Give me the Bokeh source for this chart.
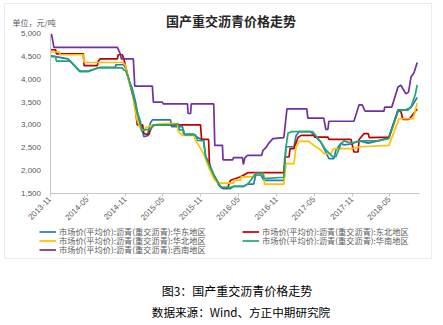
import math
import pandas as pd
from bokeh.plotting import figure
from bokeh.models import (Range1d, FixedTicker, NumeralTickFormatter, DatetimeTickFormatter,
                          Legend, LegendItem, Label, BoxAnnotation)
from bokeh.embed import file_html
from bokeh.resources import INLINE

# ---------------- data ----------------
names = ["市场价(平均价):沥青(重交沥青):华东地区",
         "市场价(平均价):沥青(重交沥青):东北地区",
         "市场价(平均价):沥青(重交沥青):华北地区",
         "市场价(平均价):沥青(重交沥青):华南地区",
         "市场价(平均价):沥青(重交沥青):西南地区"]

east_dates = ["2013-11-01", "2014-01-27", "2014-03-25", "2014-05-05", "2014-07-02", "2014-09-13",
              "2014-09-16", "2014-10-24", "2014-11-01", "2014-11-16", "2014-12-04", "2014-12-20",
              "2015-01-03", "2015-01-13", "2015-01-23", "2015-01-29", "2015-02-15", "2015-03-01",
              "2015-03-11", "2015-06-07", "2015-06-12", "2015-08-04", "2015-08-09", "2015-09-27",
              "2015-10-06", "2015-11-14", "2015-11-24", "2015-12-08", "2016-01-02", "2016-01-26",
              "2016-02-15", "2016-03-23", "2016-04-07", "2016-05-26", "2016-06-15", "2016-07-13",
              "2016-07-23", "2016-08-17", "2016-09-01", "2016-12-06", "2016-12-16", "2017-01-24",
              "2017-02-03", "2017-02-18", "2017-04-15", "2017-06-03", "2017-06-27", "2017-07-12",
              "2017-08-05", "2017-08-15", "2017-09-09", "2017-09-23", "2017-10-27", "2017-12-05",
              "2018-01-18", "2018-03-06", "2018-04-28", "2018-06-11", "2018-07-19", "2018-08-13",
              "2018-09-12"]
east_values = [4520, 4450, 4180, 4180, 4265, 4265,
               4320, 4320, 4250, 4000, 3800, 3500,
               3150, 2950, 2850, 2740, 2760, 3035,
               3110, 3110, 2960, 2960, 2800, 2800,
               2750, 2650, 2300, 2200, 1900, 1680,
               1600, 1600, 1650, 1650, 1700, 1700,
               1900, 1900, 1780, 1780, 2520, 2520,
               2760, 2850, 2850, 2620, 2400, 2260,
               2260, 2450, 2600, 2560, 2580, 2650,
               2600, 2650, 2720, 3330, 3330, 3380,
               3600]

northeast_dates = ["2013-11-01", "2013-11-28", "2013-12-02", "2014-04-11", "2014-04-15", "2014-06-18",
                   "2014-06-22", "2014-07-02", "2014-09-23", "2014-09-27", "2014-10-17", "2014-10-24",
                   "2014-11-10", "2014-11-26", "2014-12-11", "2014-12-20", "2014-12-28", "2015-01-23",
                   "2015-01-29", "2015-02-21", "2015-03-01", "2015-03-11", "2015-03-25", "2015-10-30",
                   "2015-11-04", "2015-12-08", "2015-12-13", "2016-01-02", "2016-02-05", "2016-03-09",
                   "2016-03-23", "2016-05-11", "2016-06-15", "2016-12-06", "2016-12-11", "2016-12-31",
                   "2017-01-05", "2017-01-24", "2017-02-13", "2017-02-28", "2017-04-30", "2017-05-04",
                   "2017-07-07", "2017-07-12", "2017-10-27", "2017-11-10", "2017-11-30", "2017-12-05",
                   "2017-12-29", "2018-01-18", "2018-01-23", "2018-04-28", "2018-06-11", "2018-06-25",
                   "2018-07-05", "2018-08-03", "2018-09-12"]
northeast_values = [4650, 4650, 4560, 4560, 4300, 4300,
                    4390, 4450, 4450, 4540, 4540, 4450,
                    4120, 3830, 3570, 3320, 3000, 3000,
                    2810, 2780, 2880, 2970, 3000, 3000,
                    2680, 2680, 2040, 1900, 1630, 1620,
                    1785, 1860, 1950, 1950, 2295, 2295,
                    2480, 2480, 2730, 2770, 2770, 2730,
                    2730, 2680, 2680, 2405, 2405, 2680,
                    2810, 2810, 2720, 2730, 3300, 3300,
                    3120, 3120, 3350]

north_dates = ["2013-11-01", "2013-12-15", "2013-12-20", "2014-04-11", "2014-04-15", "2014-10-20",
               "2014-11-01", "2014-11-16", "2014-12-04", "2014-12-15", "2014-12-28", "2015-01-13",
               "2015-01-29", "2015-02-07", "2015-03-16", "2015-05-03", "2015-07-10", "2015-07-15",
               "2015-08-04", "2015-09-27", "2015-10-06", "2015-11-14", "2015-11-24", "2015-12-08",
               "2016-01-02", "2016-01-21", "2016-04-07", "2016-04-10", "2016-05-11", "2016-05-14",
               "2016-07-13", "2016-07-16", "2016-09-01", "2016-09-04", "2016-12-06", "2016-12-16",
               "2017-01-24", "2017-02-03", "2017-02-18", "2017-04-06", "2017-04-30", "2017-06-03",
               "2017-06-17", "2017-07-21", "2017-08-05", "2017-10-27", "2017-12-14", "2018-04-28",
               "2018-06-16", "2018-08-23", "2018-09-12"]
north_values = [4600, 4600, 4540, 4540, 4370, 4370,
                4300, 3975, 3720, 3380, 3090, 2915,
                2880, 2940, 3000, 3030, 3030, 2850,
                2770, 2770, 2660, 2370, 2250, 2075,
                1820, 1720, 1720, 1785, 1785, 1860,
                1860, 1930, 1930, 1700, 1700, 2150,
                2150, 2515, 2640, 2640, 2550, 2450,
                2370, 2370, 2480, 2480, 2520, 2550,
                3135, 3135, 3480]

south_dates = ["2013-11-01", "2013-11-28", "2013-12-02", "2014-02-08", "2014-03-25", "2014-05-05",
               "2014-06-18", "2014-10-17", "2014-10-24", "2014-11-01", "2014-11-16", "2014-11-26",
               "2014-12-11", "2014-12-28", "2015-01-13", "2015-01-18", "2015-01-29", "2015-03-01",
               "2015-03-16", "2015-05-28", "2015-07-15", "2015-07-20", "2015-08-09", "2015-08-14",
               "2015-10-06", "2015-10-16", "2015-11-14", "2015-11-24", "2015-12-08", "2016-01-02",
               "2016-01-21", "2016-02-05", "2016-03-23", "2016-04-07", "2016-05-26", "2016-06-15",
               "2016-07-23", "2016-08-27", "2016-09-01", "2016-12-06", "2016-12-16", "2016-12-26",
               "2017-01-10", "2017-04-25", "2017-06-03", "2017-06-27", "2017-07-31", "2017-08-15",
               "2017-09-09", "2017-09-23", "2017-10-27", "2017-12-14", "2018-03-06", "2018-04-28",
               "2018-06-11", "2018-07-10", "2018-07-29", "2018-08-13", "2018-09-02", "2018-09-12"]
south_values = [4500, 4500, 4400, 4400, 4170, 4170,
                4250, 4250, 4200, 4200, 4030, 3850,
                3590, 3290, 3070, 2860, 2890, 2900,
                3000, 3000, 3020, 2890, 2890, 2780,
                2780, 2660, 2650, 2300, 2150, 1900,
                1750, 1630, 1630, 1650, 1650, 1700,
                1930, 1930, 1820, 1850, 2500, 2815,
                2850, 2850, 2620, 2450, 2300, 2300,
                2590, 2650, 2600, 2650, 2650, 2700,
                3300, 3330, 3320, 3400, 3650, 3880]

southwest_dates = ["2013-11-08", "2013-11-20", "2014-09-23", "2014-10-08", "2014-10-12", "2014-12-09",
                   "2014-12-16", "2015-03-11", "2015-03-16", "2015-04-28", "2015-05-03", "2015-08-28",
                   "2015-08-31", "2015-09-12", "2015-09-15", "2016-01-02", "2016-01-07", "2016-02-13",
                   "2016-02-16", "2016-04-02", "2016-04-06", "2016-05-20", "2016-05-24", "2016-06-01",
                   "2016-06-14", "2016-08-20", "2016-08-27", "2016-09-10", "2016-09-25", "2016-10-14",
                   "2016-12-06", "2016-12-21", "2017-03-27", "2017-04-01", "2017-06-17", "2017-06-27",
                   "2017-07-07", "2017-07-12", "2017-11-10", "2017-12-05", "2017-12-20", "2018-01-03",
                   "2018-04-04", "2018-04-08", "2018-05-12", "2018-06-11", "2018-06-25", "2018-07-19",
                   "2018-08-01", "2018-08-13", "2018-08-28", "2018-09-12"]
southwest_values = [5000, 4700, 4700, 4550, 4450, 4450,
                    3850, 3850, 3500, 3500, 3460, 3460,
                    3250, 3250, 3460, 3460, 2550, 2550,
                    2230, 2230, 2280, 2280, 2130, 2280,
                    2330, 2330, 2440, 2500, 2600, 2700,
                    2720, 3350, 3350, 3150, 3150, 2900,
                    2900, 3080, 3080, 3440, 3440, 3300,
                    3300, 3390, 3390, 3830, 3870, 3680,
                    3720, 4050, 4150, 4370]

x_tick_dates = ["2013-11-01", "2014-05-01", "2014-11-01", "2015-05-01", "2015-11-01",
                "2016-05-01", "2016-11-01", "2017-05-01", "2017-11-01", "2018-05-01"]
y_ticks = [1500, 2000, 2500, 3000, 3500, 4000, 4500, 5000]
x_axis_end_date = "2018-09-25"

title_text = "国产重交沥青价格走势"
unit_text = "单位，元/吨"
caption_1 = "图3：国产重交沥青价格走势"
caption_2 = "数据来源：Wind、方正中期研究院"

colors = ["#2878B5", "#C00000", "#FFC000", "#1FA774", "#7030A0"]

# ---------------- layout geometry (canvas pixels, y from top) ----------------
W, H = 443, 325
CJK = "Noto Sans CJK SC"
PX0, PX1 = 49.5, 389.0      # x of first and last x tick
PY_LO, PY_HI = 192.7, 33.3  # y of 1500 and 5000

t0 = pd.Timestamp(x_tick_dates[0]).value / 1e6
t1 = pd.Timestamp(x_tick_dates[-1]).value / 1e6
ms_per_px = (t1 - t0) / (PX1 - PX0)
x_start = t0 - PX0 * ms_per_px
x_end = x_start + W * ms_per_px
v_per_px = (y_ticks[-1] - y_ticks[0]) / (PY_LO - PY_HI)
y_end = y_ticks[-1] + PY_HI * v_per_px
y_start = y_ticks[0] - (H - PY_LO) * v_per_px

def sx(px):  # canvas px -> frame screen units
    return px

def sy(py):  # canvas px from top -> frame screen units (from bottom)
    return H - py

p = figure(width=W, height=H, x_axis_type="datetime",
           x_range=Range1d(x_start, x_end), y_range=Range1d(y_start, y_end),
           output_backend="svg", toolbar_location=None,
           min_border=0, min_border_left=0, min_border_right=0,
           min_border_top=0, min_border_bottom=0)
p.title.visible = False
p.outline_line_color = None
p.xgrid.visible = False
p.ygrid.visible = False
p.background_fill_color = "white"
p.border_fill_color = "white"

series = [(east_dates, east_values), (northeast_dates, northeast_values),
          (north_dates, north_values), (south_dates, south_values),
          (southwest_dates, southwest_values)]
rends = []
for (d, v), c in zip(series, colors):
    r = p.line(x=pd.to_datetime(d), y=v, line_color=c, line_width=1.7)
    rends.append(r)

# axes, fixed inside the frame
yax = p.yaxis[0]
yax.fixed_location = t0
yax.bounds = (y_ticks[0], y_ticks[-1])
yax.ticker = FixedTicker(ticks=y_ticks)
yax.formatter = NumeralTickFormatter(format="0,0")
yax.axis_line_color = "#c8c8c8"
yax.major_tick_line_color = None
yax.minor_tick_line_color = None
yax.major_tick_out = 0
yax.major_tick_in = 0
yax.major_label_standoff = 9
yax.major_label_text_font = "Liberation Sans"
yax.major_label_text_font_size = "8px"
yax.major_label_text_color = "#595959"

xax = p.xaxis[0]
xax.fixed_location = y_ticks[0]
xax.bounds = (t0, pd.Timestamp(x_axis_end_date).value / 1e6)
xax.ticker = FixedTicker(ticks=[pd.Timestamp(s).value // 10**6 for s in x_tick_dates])
fmt = "%Y-%m"
xax.formatter = DatetimeTickFormatter(
    microseconds=fmt, milliseconds=fmt, seconds=fmt, minsec=fmt, minutes=fmt,
    hourmin=fmt, hours=fmt, days=fmt, months=fmt, years=fmt, strip_leading_zeros=False)
xax.major_label_orientation = math.pi / 4
xax.axis_line_color = "#c8c8c8"
xax.major_tick_line_color = "#c8c8c8"
xax.minor_tick_line_color = None
xax.major_tick_in = 0
xax.major_tick_out = 3
xax.major_label_standoff = 2
xax.major_label_text_font = "Liberation Sans"
xax.major_label_text_font_size = "8px"
xax.major_label_text_color = "#595959"

# legend: one small legend per entry, laid out in two columns / three rows
ITEM_H = 12
def add_legend_item(idx, left_px, row_center_px):
    lg = Legend(items=[LegendItem(label=names[idx], renderers=[rends[idx]])],
                location=(sx(left_px), sy(row_center_px + ITEM_H / 2)),
                orientation="vertical",
                label_text_font=CJK, label_text_font_size="8.2px",
                label_text_color="#595959", label_height=9, glyph_height=9,
                glyph_width=17, label_standoff=3, spacing=0, padding=0, margin=0,
                border_line_color=None, background_fill_alpha=0)
    p.add_layout(lg)

COL1, COL2 = 39, 242
ROWS = [231, 240, 249]
add_legend_item(0, COL1, ROWS[0])
add_legend_item(1, COL2, ROWS[0])
add_legend_item(2, COL1, ROWS[1])
add_legend_item(3, COL2, ROWS[1])
add_legend_item(4, COL1, ROWS[2])

# chart border
p.add_layout(BoxAnnotation(left=sx(4), right=sx(431), top=sy(3), bottom=sy(258),
                           left_units="screen", right_units="screen",
                           top_units="screen", bottom_units="screen",
                           fill_alpha=0, line_color="#bfbfbf", line_width=1))

# texts
def add_label(text, x, y, size, align="center", color="#000000", bold=False):
    p.add_layout(Label(x=sx(x), y=sy(y), x_units="screen", y_units="screen",
                       text=text, text_font=CJK, text_font_size=size,
                       text_font_style="bold" if bold else "normal",
                       text_color=color, text_align=align, text_baseline="middle"))

add_label(title_text, 230.5, 20, "13px", color="#262626", bold=True)
add_label(unit_text, 12, 22, "8px", align="left", color="#595959")
add_label(caption_1, 236.5, 290, "12px")
add_label(caption_2, 240.5, 311, "11.6px")

open("out.html", "w").write(file_html(p, INLINE))
